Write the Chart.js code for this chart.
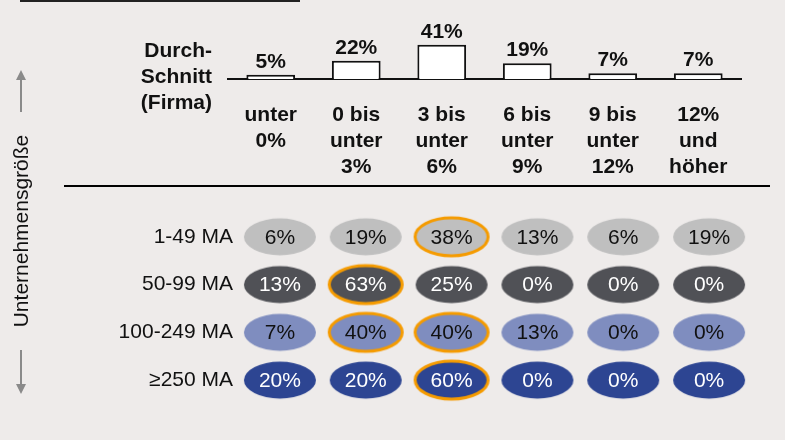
<!DOCTYPE html>
<html>
<head>
<meta charset="utf-8">
<script src="https://cdn.jsdelivr.net/npm/chart.js@4/dist/chart.umd.min.js"></script>
<style>
    html, body { margin: 0; padding: 0; background: #eeebea; }
    #wrap { position: relative; width: 785px; height: 440px; }
    canvas { position: absolute; left: 0; top: 0; }
</style>
</head>
<body>
<div id="wrap">
    <canvas id="avgChart" width="785" height="440"></canvas>
    <canvas id="gridChart" width="785" height="440"></canvas>
</div>
<script>
// Categories (return ranges) and the company average per category
const rangeLabels = [
    ['unter', '0%'],
    ['0 bis', 'unter', '3%'],
    ['3 bis', 'unter', '6%'],
    ['6 bis', 'unter', '9%'],
    ['9 bis', 'unter', '12%'],
    ['12%', 'und', 'höher']
];
const averageValues = [5, 22, 41, 19, 7, 7];

// Company size classes and their shares per category
const sizeClasses = ['1-49 MA', '50-99 MA', '100-249 MA', '≥250 MA'];
const small = [6, 19, 38, 13, 6, 19];
const medium = [13, 63, 25, 0, 0, 0];
const large = [7, 40, 40, 13, 0, 0];
const veryLarge = [20, 20, 60, 0, 0, 0];
const sizeValues = [small, medium, large, veryLarge];

const rowColours = ['#bfbfbf', '#505156', '#7f8dbf', '#2d4592'];
const rowTextColours = ['#111111', '#ffffff', '#111111', '#ffffff'];
const highlightColour = '#f59b00';
const FONT = '"Liberation Sans", Arial, sans-serif';
const FONT_SIZE = 21;

const colKeys = rangeLabels.map(l => l.join(' '));

// ellipse images used as point styles
const ellipseCache = {};
function ellipseImage(colour, highlighted) {
    const key = colour + highlighted;
    if (ellipseCache[key]) return ellipseCache[key];
    const c = document.createElement('canvas');
    c.width = 80;
    c.height = 44;
    const g = c.getContext('2d');
    g.beginPath();
    g.ellipse(40, 22, 36, 18.5, 0, 0, Math.PI * 2);
    g.fillStyle = colour;
    g.fill();
    if (highlighted) {
        g.beginPath();
        g.ellipse(40, 22, 36.5, 19, 0, 0, Math.PI * 2);
        g.lineWidth = 3;
        g.strokeStyle = highlightColour;
        g.stroke();
    }
    ellipseCache[key] = c;
    return c;
}

function isRowMax(row, col) {
    return sizeValues[row][col] === Math.max(...sizeValues[row]);
}

// --- decorations, bar values, side title ---
const avgDecorations = {
    id: 'avgDecorations',
    afterDatasetsDraw(chart) {
        const ctx = chart.ctx;
        ctx.save();

        // values above bars
        ctx.fillStyle = '#111';
        ctx.font = 'bold ' + FONT_SIZE + 'px ' + FONT;
        ctx.textAlign = 'center';
        ctx.textBaseline = 'alphabetic';
        chart.getDatasetMeta(0).data.forEach((bar, i) => {
            ctx.fillText(averageValues[i] + '%', bar.x, bar.y - 7);
        });

        // "Durchschnitt (Firma)"
        ctx.textAlign = 'right';
        ctx.textBaseline = 'middle';
        ['Durch-', 'Schnitt', '(Firma)'].forEach((t, i) => {
            ctx.fillText(t, 212, 51 + i * 26);
        });

        // lines
        ctx.strokeStyle = '#222';
        ctx.lineWidth = 2;
        ctx.beginPath();
        ctx.moveTo(20, 1);
        ctx.lineTo(300, 1);
        ctx.stroke();
        ctx.strokeStyle = '#000';
        ctx.beginPath();
        ctx.moveTo(64, 186);
        ctx.lineTo(770, 186);
        ctx.stroke();

        // side title with arrows
        ctx.save();
        ctx.translate(22, 231);
        ctx.rotate(-Math.PI / 2);
        ctx.font = FONT_SIZE + 'px ' + FONT;
        ctx.fillStyle = '#111';
        ctx.textAlign = 'center';
        ctx.fillText('Unternehmensgröße', 0, 0);
        ctx.restore();

        ctx.strokeStyle = '#8a8a8a';
        ctx.fillStyle = '#8a8a8a';
        ctx.lineWidth = 2;
        ctx.beginPath();
        ctx.moveTo(21, 112);
        ctx.lineTo(21, 78);
        ctx.moveTo(21, 350);
        ctx.lineTo(21, 385);
        ctx.stroke();
        ctx.beginPath();
        ctx.moveTo(21, 70);
        ctx.lineTo(16, 80);
        ctx.lineTo(26, 80);
        ctx.closePath();
        ctx.moveTo(21, 394);
        ctx.lineTo(16, 384);
        ctx.lineTo(26, 384);
        ctx.closePath();
        ctx.fill();

        ctx.restore();
    }
};

new Chart(document.getElementById('avgChart'), {
    type: 'bar',
    data: {
        labels: rangeLabels,
        datasets: [{
            data: averageValues,
            backgroundColor: '#ffffff',
            borderColor: '#111',
            borderWidth: 2,
            barPercentage: 0.57,
            categoryPercentage: 1
        }]
    },
    options: {
        responsive: false,
        animation: false,
        events: [],
        layout: { padding: { left: 228, right: 44, top: 29, bottom: 255 } },
        scales: {
            x: {
                grid: { display: false, drawTicks: false, tickLength: 0 },
                border: { display: true, color: '#111', width: 2 },
                ticks: {
                    color: '#111',
                    font: { family: FONT, size: FONT_SIZE, weight: 'bold', lineHeight: 1.25 },
                    padding: 23,
                    maxRotation: 0,
                    autoSkip: false
                },
                afterFit: scale => { scale.height = 106; }
            },
            y: { display: false, min: 0, max: 60 }
        },
        plugins: { legend: { display: false }, tooltip: { enabled: false } }
    },
    plugins: [avgDecorations]
});

// --- grid of ellipses ---
const ellipseLabels = {
    id: 'ellipseLabels',
    afterDatasetsDraw(chart) {
        const ctx = chart.ctx;
        ctx.save();
        ctx.font = FONT_SIZE + 'px ' + FONT;
        ctx.textAlign = 'center';
        ctx.textBaseline = 'middle';
        sizeValues.forEach((row, r) => {
            ctx.fillStyle = rowTextColours[r];
            chart.getDatasetMeta(r).data.forEach((pt, c) => {
                ctx.fillText(row[c] + '%', pt.x, pt.y + 1);
            });
        });
        ctx.restore();
    }
};

new Chart(document.getElementById('gridChart'), {
    type: 'scatter',
    data: {
        datasets: sizeValues.map((row, r) => ({
            data: row.map((v, c) => ({ x: colKeys[c], y: sizeClasses[r] })),
            pointRadius: 20,
            pointStyle: ctx => ellipseImage(rowColours[r], isRowMax(r, ctx.dataIndex)),
            clip: false
        }))
    },
    options: {
        responsive: false,
        animation: false,
        events: [],
        layout: { padding: { left: 0, right: 33, top: 213, bottom: 36 } },
        scales: {
            x: { type: 'category', labels: colKeys, offset: true, display: false },
            y: {
                type: 'category',
                labels: sizeClasses,
                offset: true,
                grid: { display: false, drawTicks: false, tickLength: 0 },
                border: { display: false },
                ticks: {
                    color: '#111',
                    font: { family: FONT, size: FONT_SIZE },
                    padding: 4
                },
                afterFit: scale => { scale.width = 237; }
            }
        },
        plugins: { legend: { display: false }, tooltip: { enabled: false } }
    },
    plugins: [ellipseLabels]
});
</script>
</body>
</html>
